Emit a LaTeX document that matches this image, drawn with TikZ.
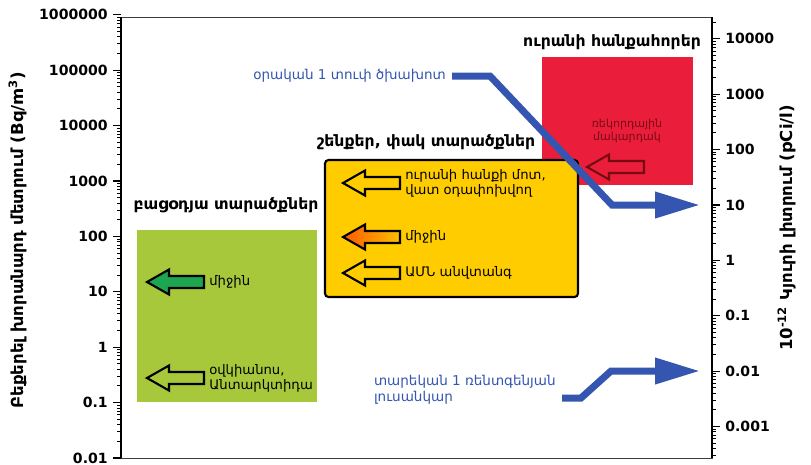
\documentclass[tikz,border=0pt]{standalone}
\usepackage{fontspec}
\setmainfont{DejaVu Sans}
\usetikzlibrary{arrows.meta,positioning}
\definecolor{radblue}{RGB}{52,86,176}
\definecolor{outgreen}{RGB}{166,200,58}
\definecolor{bldyellow}{RGB}{255,204,0}
\definecolor{minered}{RGB}{234,30,58}
\definecolor{avggreen}{RGB}{30,165,80}
\definecolor{darkred}{RGB}{120,10,20}
\definecolor{axisgray}{RGB}{60,60,60}

\tikzset{
  lab/.style={font=\bfseries\fontsize{8.9}{10}\selectfont, inner sep=0pt},
  num/.style={font=\bfseries\fontsize{8}{9}\selectfont, inner sep=0pt},
  note/.style={font=\fontsize{7.5}{8.5}\selectfont, align=left, inner sep=0pt},
  bluenote/.style={font=\fontsize{7.7}{9}\selectfont, text=radblue, align=left, inner sep=0pt},
  axtitle/.style={font=\bfseries\fontsize{9.4}{10}\selectfont, inner sep=0pt},
  radline/.style={radblue, line width=0.14cm, line join=miter, -{Triangle[length=0.9cm,width=0.5cm]}},
  arrline/.style={line width=1.2pt, line join=miter},
  pics/larrow/.style={code={
    \draw[arrline,#1] (0,0) -- (22,12.5) -- (22,6) -- (57,6) -- (57,-6) -- (22,-6) -- (22,-12.5) -- cycle;
    \coordinate (-end) at (57,0);
  }}
}

\begin{document}
\begin{tikzpicture}[x=0.02cm,y=-0.02cm]
  \useasboundingbox (0,0) rectangle (811,464);

  % frame and axes
  \draw[axisgray, line width=0.4pt] (121,17) rectangle (712,458);
  \draw[line width=0.9pt] (121,17) -- (121,458);
  \draw[line width=0.9pt] (712,17) -- (712,458);

  % left axis, Bq/m^3
  \foreach \d in {0,...,7} {
    \draw[line width=0.7pt] (121,{458-55.4*\d}) -- (113,{458-55.4*\d});
    \foreach \m in {2,...,9}
      \draw[line width=0.5pt] (121,{458-55.4*(\d+ln(\m)/ln(10))}) -- (117,{458-55.4*(\d+ln(\m)/ln(10))});
  }
  \draw[line width=0.7pt] (121,{458-55.4*8}) -- (113,{458-55.4*8});
  \foreach \v [count=\i from 0] in {0.01,0.1,1,10,100,1000,10000,100000,1000000}
    \node[num, anchor=east] at (108,{458-55.4*\i}) {\v};

  % right axis, pCi/l
  \foreach \k in {-4,...,4} {
    \foreach \m in {1,...,9} {
      \pgfmathsetmacro\yy{458-55.4*(\k+3.568+ln(\m)/ln(10))}
      \pgfmathtruncatemacro\ok{and(\yy>17,\yy<458)}
      \ifnum\ok=1
        \ifnum\m=1
          \draw[line width=0.7pt] (712,\yy) -- (720,\yy);
        \else
          \draw[line width=0.5pt] (712,\yy) -- (716,\yy);
        \fi
      \fi
    }
  }
  \foreach \v [count=\i from -3] in {0.001,0.01,0.1,1,10,100,1000,10000}
    \node[num, anchor=west] at (725,{458-55.4*(\i+3.568)}) {\v};

  \node[axtitle, rotate=90] (ltitle) at (18,240) {Բեքերել խորանարդ մետրում (Bq/m\textsuperscript{3})};
  \node[axtitle, rotate=90] (rtitle) at (787,228) {10\textsuperscript{-12} Կյուրի լիտրում (pCi/l)};

  % boxes
  \fill[minered] (542,57) rectangle (693,185);
  \fill[outgreen] (137,230) rectangle (317,402);
  \draw[line width=1.2pt, fill=bldyellow, rounded corners=2pt] (325,160) rectangle (578,297);

  \node[lab] (outlab) at (226,205) {բացօդյա տարածքներ};
  \node[lab] (bldlab) at (426,142) {շենքեր, փակ տարածքներ};
  \node[lab] (minelab) at (612,42) {ուրանի հանքահորեր};

  % outdoor
  \pic (oavg) at (147,282) {larrow={fill=avggreen}};
  \node[note, anchor=west, right=0.1cm of oavg-end] (oavgtxt) {միջին};
  \pic (ocean) at (147,378) {larrow={fill=none}};
  \node[note, anchor=west, right=0.1cm of ocean-end] (oceantxt) {օվկիանոս,\\Անտարկտիդա};

  % buildings
  \pic (bmine) at (343,183) {larrow={fill=none}};
  \node[note, anchor=west, right=0.1cm of bmine-end] (bminetxt) {ուրանի հանքի մոտ,\\վատ օդափոխվող};
  \pic (bavg) at (343,237) {larrow={left color=orange!70!red, right color=orange!50!yellow}};
  \node[note, anchor=west, right=0.1cm of bavg-end] (bavgtxt) {միջին};
  \pic (bus) at (343,273) {larrow={fill=none}};
  \node[note, anchor=west, right=0.1cm of bus-end] (bustxt) {ԱՄՆ անվտանգ};

  % mines
  \node[font=\fontsize{6.3}{7.5}\selectfont, text=darkred, align=center, inner sep=0pt] (rec) at (627,131) {ռեկորդային\\մակարդակ};
  \pic (mrec) at (587,167) {larrow={draw=darkred, fill=none}};

  % comparison lines
  \node[bluenote, anchor=west] (cig) at (253,76) {օրական 1 տուփ ծխախոտ};
  \coordinate (cigend) at (700,205);
  \draw[radline] ([xshift=0.12cm]cig.east) -- (490,76) -- (612,205) -- (cigend);

  \node[bluenote, anchor=east] (xray) at (556,390) {տարեկան 1 ռենտգենյան\\լուսանկար};
  \coordinate (xrayend) at (700,371);
  \draw[radline] (562,398) -- (581,398) -- (611,371) -- (xrayend);
\end{tikzpicture}
\end{document}
